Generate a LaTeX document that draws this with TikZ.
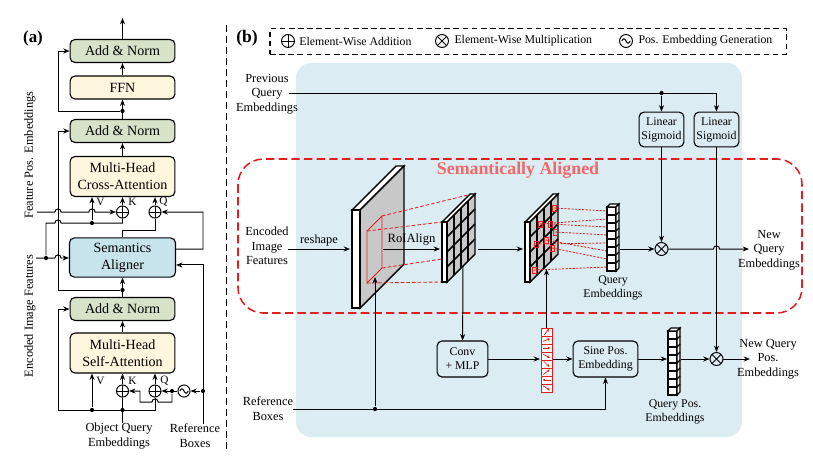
\documentclass[tikz,border=0pt]{standalone}
\usepackage{fontspec}
\setmainfont{Liberation Serif}
\usetikzlibrary{arrows.meta,positioning,calc}
\definecolor{normgreen}{RGB}{214,227,200}
\definecolor{attncream}{RGB}{255,246,222}
\definecolor{alignblue}{RGB}{199,227,236}
\definecolor{bgblue}{RGB}{219,236,242}
\definecolor{roired}{RGB}{228,30,30}
\definecolor{titlered}{RGB}{242,104,104}
\definecolor{mapgray}{RGB}{200,200,200}

\tikzset{
  box/.style={draw, line width=0.8pt, rounded corners=3.5pt, align=center, inner sep=1pt, font=\fontsize{10}{12}\selectfont},
  normbox/.style={box, fill=normgreen, minimum width=2.62cm, minimum height=0.575cm},
  attnbox/.style={box, fill=attncream, minimum width=2.62cm, minimum height=1cm},
  smallbox/.style={draw, line width=0.8pt, rounded corners=3.5pt, align=center, inner sep=0pt, font=\fontsize{8.4}{10}\selectfont},
  lbl/.style={align=center, inner sep=0pt, font=\fontsize{8.8}{10.4}\selectfont},
  qkv/.style={inner sep=0pt, font=\fontsize{8}{9}\selectfont},
  arr/.style={-{Stealth[length=4.5pt,width=3.6pt]}},
  dot/.style={circle, fill, inner sep=0pt, minimum size=3pt},
  opnode/.style={circle, draw, line width=0.7pt, inner sep=0pt, minimum size=8.6pt},
  addop/.style={opnode, path picture={\draw[line width=0.7pt] (path picture bounding box.north) -- (path picture bounding box.south) (path picture bounding box.west) -- (path picture bounding box.east);}},
  mulop/.style={opnode, minimum size=9.2pt, path picture={\draw[line width=0.7pt] (path picture bounding box.north west) -- (path picture bounding box.south east) (path picture bounding box.north east) -- (path picture bounding box.south west);}},
  sinop/.style={opnode, path picture={\draw[line width=0.7pt] ([xshift=-3pt]path picture bounding box.center) sin ++(1.5pt,1.6pt) cos ++(1.5pt,-1.6pt) sin ++(1.5pt,-1.6pt) cos ++(1.5pt,1.6pt);}},
}

\begin{document}
\begin{tikzpicture}[x=0.025cm, y=-0.025cm, line width=0.7pt]
  \useasboundingbox (0,0) rectangle (813,456);

  %% (a) decoder layer
  \node[font=\bfseries\fontsize{12}{13}\selectfont] (alab) at (33,38) {(a)};
  \node[normbox] (an1) at (122.5,51) {Add \& Norm};
  \node[attnbox, minimum height=0.575cm] (ffn) at (122.5,87.5) {FFN};
  \node[normbox] (an2) at (122.5,131) {Add \& Norm};
  \node[attnbox] (ca) at (122.5,176.5) {Multi-Head\\Cross-Attention};
  \node[box, fill=alignblue, minimum width=2.65cm, minimum height=0.98cm] (sa) at (122.5,257.5) {Semantics\\Aligner};
  \node[normbox] (an3) at (122.5,309) {Add \& Norm};
  \node[attnbox] (self) at (122.5,353) {Multi-Head\\Self-Attention};

  \node[addop] (caK) at (122.5,212) {};
  \node[addop] (caQ) at (155,212) {};
  \node[addop] (saK) at (122.5,391) {};
  \node[addop] (saQ) at (155,391) {};
  \node[sinop] (pe) at (184,391) {};

  \node[dot] (j1) at (122.5,111) {};
  \node[dot] (j2) at (122.5,290) {};
  \node[dot] (j3) at (122.5,410) {};
  \node[dot] (vdot) at (92,410) {};
  \node[dot] (edot) at (46,258) {};
  \node[dot] (kdot) at (92,223) {};
  \node[dot] (rdot) at (203,391) {};
  \node[dot] (pdot) at (172,391) {};

  \node[qkv, anchor=west] at (96,202) {V};
  \node[qkv, anchor=west] at (128,202) {K};
  \node[qkv, anchor=west] at (159,202) {Q};
  \node[qkv, anchor=west] at (96,381) {V};
  \node[qkv, anchor=west] at (128,381) {K};
  \node[qkv, anchor=west] at (160,381) {Q};

  \node[lbl, rotate=90] (fplab) at (30,155) {Feature Pos. Embeddings};
  \node[lbl, rotate=90] (enclab) at (30,316) {Encoded Image Features};
  \node[lbl] (oqlab) at (119,436) {Object Query\\Embeddings};
  \node[lbl] (reflab) at (195,436) {Reference\\Boxes};
  \coordinate (fpin) at (37,212);
  \coordinate (encin) at (36,258);
  \coordinate (out) at (122.5,18);

  \draw[arr] (an1) -- (out);
  \draw[arr] (ffn) -- (an1);
  \draw[arr] (an2) -- (ffn);
  \draw[arr] (j1) -- (58,111) |- (an1.west);
  \draw[arr] (ca) -- (an2);
  \draw[arr] (an3) -- (sa);
  \draw[arr] (j2) -- (58,290) |- (an2.west);
  \draw[arr] (self) -- (an3);

  %% self-attention inputs
  \draw (oqlab.north -| j3) -- (saK);
  \draw[arr] (saK) -- (saK |- self.south);
  \draw[arr] (saQ) -- (saQ |- self.south);
  \draw[arr] (vdot) -- (vdot |- self.south);
  \draw[arr] (saQ) |- (58,410) |- (an3.west);
  \draw[arr] (reflab.north -| rdot) |- ([yshift=-5.3pt]sa.east);
  \draw[arr] (rdot) -- (pe);
  \draw[arr] (pe) -- (saQ);
  \draw[arr] (pdot) -- (172,402) -- (158.1,402) arc[start angle=0, end angle=180, radius=2.2pt] -- (140,402) -- (140,391) -- (saK);

  %% cross-attention inputs
  \draw (sa) -- (122.5,230) -| (caQ);
  \draw[arr] ([yshift=6pt]sa.east) -- (203,249) |- (caQ);
  \draw[arr] (caQ) -- (caQ |- ca.south);
  \draw[arr] (caK) -- (caK |- ca.south);
  \draw[arr] (kdot) -- (kdot |- ca.south);
  \draw[arr] (fpin) -- (54.9,212) arc[start angle=180, end angle=0, radius=2.2pt] -- (88.9,212) arc[start angle=180, end angle=0, radius=2.2pt] -- (caK);
  \draw[arr] (encin) -- (54.9,258) arc[start angle=180, end angle=0, radius=2.2pt] -- (sa);
  \draw (edot) -- (46,223) -- (54.9,223) arc[start angle=180, end angle=0, radius=2.2pt] -- (122.5,223) -- (caK);

  \draw[line width=1.4pt, dash pattern=on 5pt off 2.8pt] (226.5,25) -- (226.5,452);

  %% (b) semantics aligner
  \node[font=\bfseries\fontsize{12.5}{13}\selectfont] (blab) at (247,38) {(b)};
  \node[draw, line width=0.8pt, dash pattern=on 4pt off 2.5pt, minimum width=12.9cm, minimum height=0.63cm] (legend) at (528,41.5) {};
  \node[addop, minimum size=9.2pt] (lplus) at (288,41) {};
  \node[lbl, anchor=west, font=\fontsize{8.4}{10}\selectfont] (lplustxt) at (299,41) {Element-Wise Addition};
  \node[mulop] (ltimes) at (442,41) {};
  \node[lbl, anchor=west, font=\fontsize{8.4}{10}\selectfont] (ltimestxt) at (454,41) {Element-Wise Multiplication};
  \node[sinop, minimum size=9.2pt] (lsin) at (626,41) {};
  \node[lbl, anchor=west, font=\fontsize{8.4}{10}\selectfont] (lsintxt) at (638,41) {Pos. Embedding Generation};

  \fill[bgblue, rounded corners=11pt] (296,63) rectangle (742,437);
  \draw[roired, line width=1.1pt, dash pattern=on 6pt off 3pt, rounded corners=18pt] (238,159) rectangle (802,313);
  \node[font=\bfseries\fontsize{12.7}{14}\selectfont, text=titlered] (semtitle) at (518,170) {Semantically Aligned};

  %% feature map
  \draw[fill=white, line width=1pt] (352,210) -- (396,166) -- (404,166) -- (360,210) -- cycle;
  \draw[fill=mapgray, line width=1pt] (360,210) -- (404,166) -- (404,264) -- (360,308) -- cycle;
  \draw[fill=white, line width=1pt] (352,210) rectangle (360,308);
  \draw[roired, line width=0.6pt] (367,231) -- (382,216) -- (382,268) -- (367,283) -- cycle;
  \draw[roired, line width=0.6pt, dash pattern=on 2.5pt off 1.5pt] (382,216) -- (472,194) (367,231) -- (442,222) (382,268) -- (475,254) (367,283) -- (442,282);

  %% RoI feature grids
  \foreach \gx in {442,525} {
    \draw[fill=white, line width=1pt] (\gx,222) -- (\gx+28,194) -- (\gx+33,194) -- (\gx+5,222) -- cycle;
    \draw[fill=mapgray, line width=1pt] (\gx+5,222) -- (\gx+33,194) -- (\gx+33,254) -- (\gx+5,282) -- cycle;
    \foreach \k in {1,2,3} {
      \draw[line width=1.1pt] (\gx+5+7*\k,222-7*\k) -- (\gx+5+7*\k,282-7*\k);
      \draw[line width=1.1pt] (\gx+5,222+15*\k) -- (\gx+33,194+15*\k);
    }
    \draw[fill=white, line width=1pt] (\gx,222) rectangle (\gx+5,282);
  }

  %% sampling points
  \foreach \sx/\sy/\t in {554/208/211, 540/224/219, 550/224/227, 555/232/235, 536/244/243, 546/240/251, 552/248/259, 534/270/267} {
    \draw[roired, line width=0.5pt] (\sx-2,\sy-3) rectangle (\sx+2,\sy+3);
    \draw[roired, line width=0.6pt, dash pattern=on 1.5pt off 1pt] (\sx,\sy) -- (607,\t);
  }

  %% query embeddings
  \foreach \i in {0,...,7}
    \draw[fill=white, line width=0.8pt] (607,207+8*\i) rectangle (616,215+8*\i);
  \draw[fill=white, line width=0.8pt] (607,207) -- (610,204) -- (619,204) -- (616,207) -- cycle;
  \draw[fill=white, line width=0.8pt] (616,207) -- (619,204) -- (619,268) -- (616,271) -- cycle;
  \foreach \i in {1,...,7}
    \draw[line width=0.8pt] (616,207+8*\i) -- (619,204+8*\i);

  %% offsets
  \foreach \i/\a in {0/-50,1/-20,2/0,3/30,4/45,5/-40,6/180,7/35} {
    \draw[roired, fill=white, line width=0.6pt] (541,328+8*\i) rectangle (552,336+8*\i);
    \draw[roired, line width=0.5pt, -{Stealth[length=2pt,width=1.8pt]}] (546.5,332+8*\i) ++(\a+180:4) -- ++(\a:8);
  }

  %% query pos. embeddings
  \foreach \i in {0,...,7}
    \draw[fill=white, line width=0.8pt] (668,331+8*\i) rectangle (677,339+8*\i);
  \draw[fill=white, line width=0.8pt] (668,331) -- (671,328) -- (680,328) -- (677,331) -- cycle;
  \draw[fill=white, line width=0.8pt] (677,331) -- (680,328) -- (680,392) -- (677,395) -- cycle;
  \foreach \i in {1,...,7}
    \draw[line width=0.8pt] (677,331+8*\i) -- (680,328+8*\i);

  \node[smallbox, minimum width=1.12cm, minimum height=0.87cm] (ls1) at (661.5,129.5) {Linear\\Sigmoid};
  \node[smallbox, minimum width=1.12cm, minimum height=0.87cm] (ls2) at (716.5,129.5) {Linear\\Sigmoid};
  \node[smallbox, minimum width=1.27cm, minimum height=0.9cm] (conv) at (462.5,359) {Conv\\+ MLP};
  \node[smallbox, minimum width=1.62cm, minimum height=0.9cm] (sine) at (605.5,359) {Sine Pos.\\Embedding};
  \node[mulop] (m1) at (661.5,249) {};
  \node[mulop] (m2) at (716.5,359) {};
  \node[dot] (qdot) at (661.5,93) {};
  \node[dot] (rdot2) at (375,409) {};

  \node[lbl] (prevlab) at (267,94) {Previous\\Query\\Embeddings};
  \node[lbl] (enclab2) at (267,246) {Encoded\\Image\\Features};
  \node[lbl] (reflab2) at (268,409) {Reference\\Boxes};
  \node[lbl] (newq) at (769,250) {New\\Query\\Embeddings};
  \node[lbl] (newqp) at (768,359) {New Query\\Pos.\\Embeddings};
  \node[lbl, font=\fontsize{8.4}{10}\selectfont] (q1lab) at (613,288) {Query\\Embeddings};
  \node[lbl, font=\fontsize{8.4}{10}\selectfont] (q2lab) at (675,412) {Query Pos.\\Embeddings};

  \coordinate (previn) at (289,93);
  \coordinate (encin2) at (288,249);
  \coordinate (fmapin) at (350,249);
  \coordinate (roiin) at (383,249);
  \coordinate (g1in) at (440,249);
  \coordinate (g1out) at (478,249);
  \coordinate (g1b) at (463,266);
  \coordinate (g2in) at (523,249);
  \coordinate (g2b) at (546.5,269);
  \coordinate (offsin) at (540,359);
  \coordinate (offsout) at (553,359);
  \coordinate (offstop) at (546.5,328);
  \coordinate (q1out) at (620,249);
  \coordinate (q2in) at (667,359);
  \coordinate (q2out) at (681,359);
  \coordinate (nqin) at (749,249);
  \coordinate (nqpin) at (750,359);
  \coordinate (refin) at (293,409);
  \coordinate (roib) at (375,277);

  \draw[arr] (previn) -| (ls2);
  \draw[arr] (qdot) -- (ls1);
  \draw[arr] (ls1) -- (m1);
  \draw[arr] (ls2) -- (m2);
  \draw[arr] (encin2) -- node[lbl, above=2pt] {reshape} (fmapin);
  \draw[arr] (roiin) -- node[lbl, above=2pt, font=\fontsize{9}{10}\selectfont] {RoIAlign} (g1in);
  \draw[arr] (g1out) -- (g2in);
  \draw[arr] (g1b) -- (conv);
  \draw[arr] (conv) -- (offsin);
  \draw[arr] (offsout) -- (sine);
  \draw[arr] (offstop) -- (g2b);
  \draw[arr] (refin) -| (sine);
  \draw[arr] (rdot2) -- (roib);
  \draw[arr] (q1out) -- (m1);
  \draw[arr] (m1) -- (713.4,249) arc[start angle=180, end angle=0, radius=2.2pt] -- (nqin);
  \draw[arr] (sine) -- (q2in);
  \draw[arr] (q2out) -- (m2);
  \draw[arr] (m2) -- (nqpin);
\end{tikzpicture}
\end{document}
